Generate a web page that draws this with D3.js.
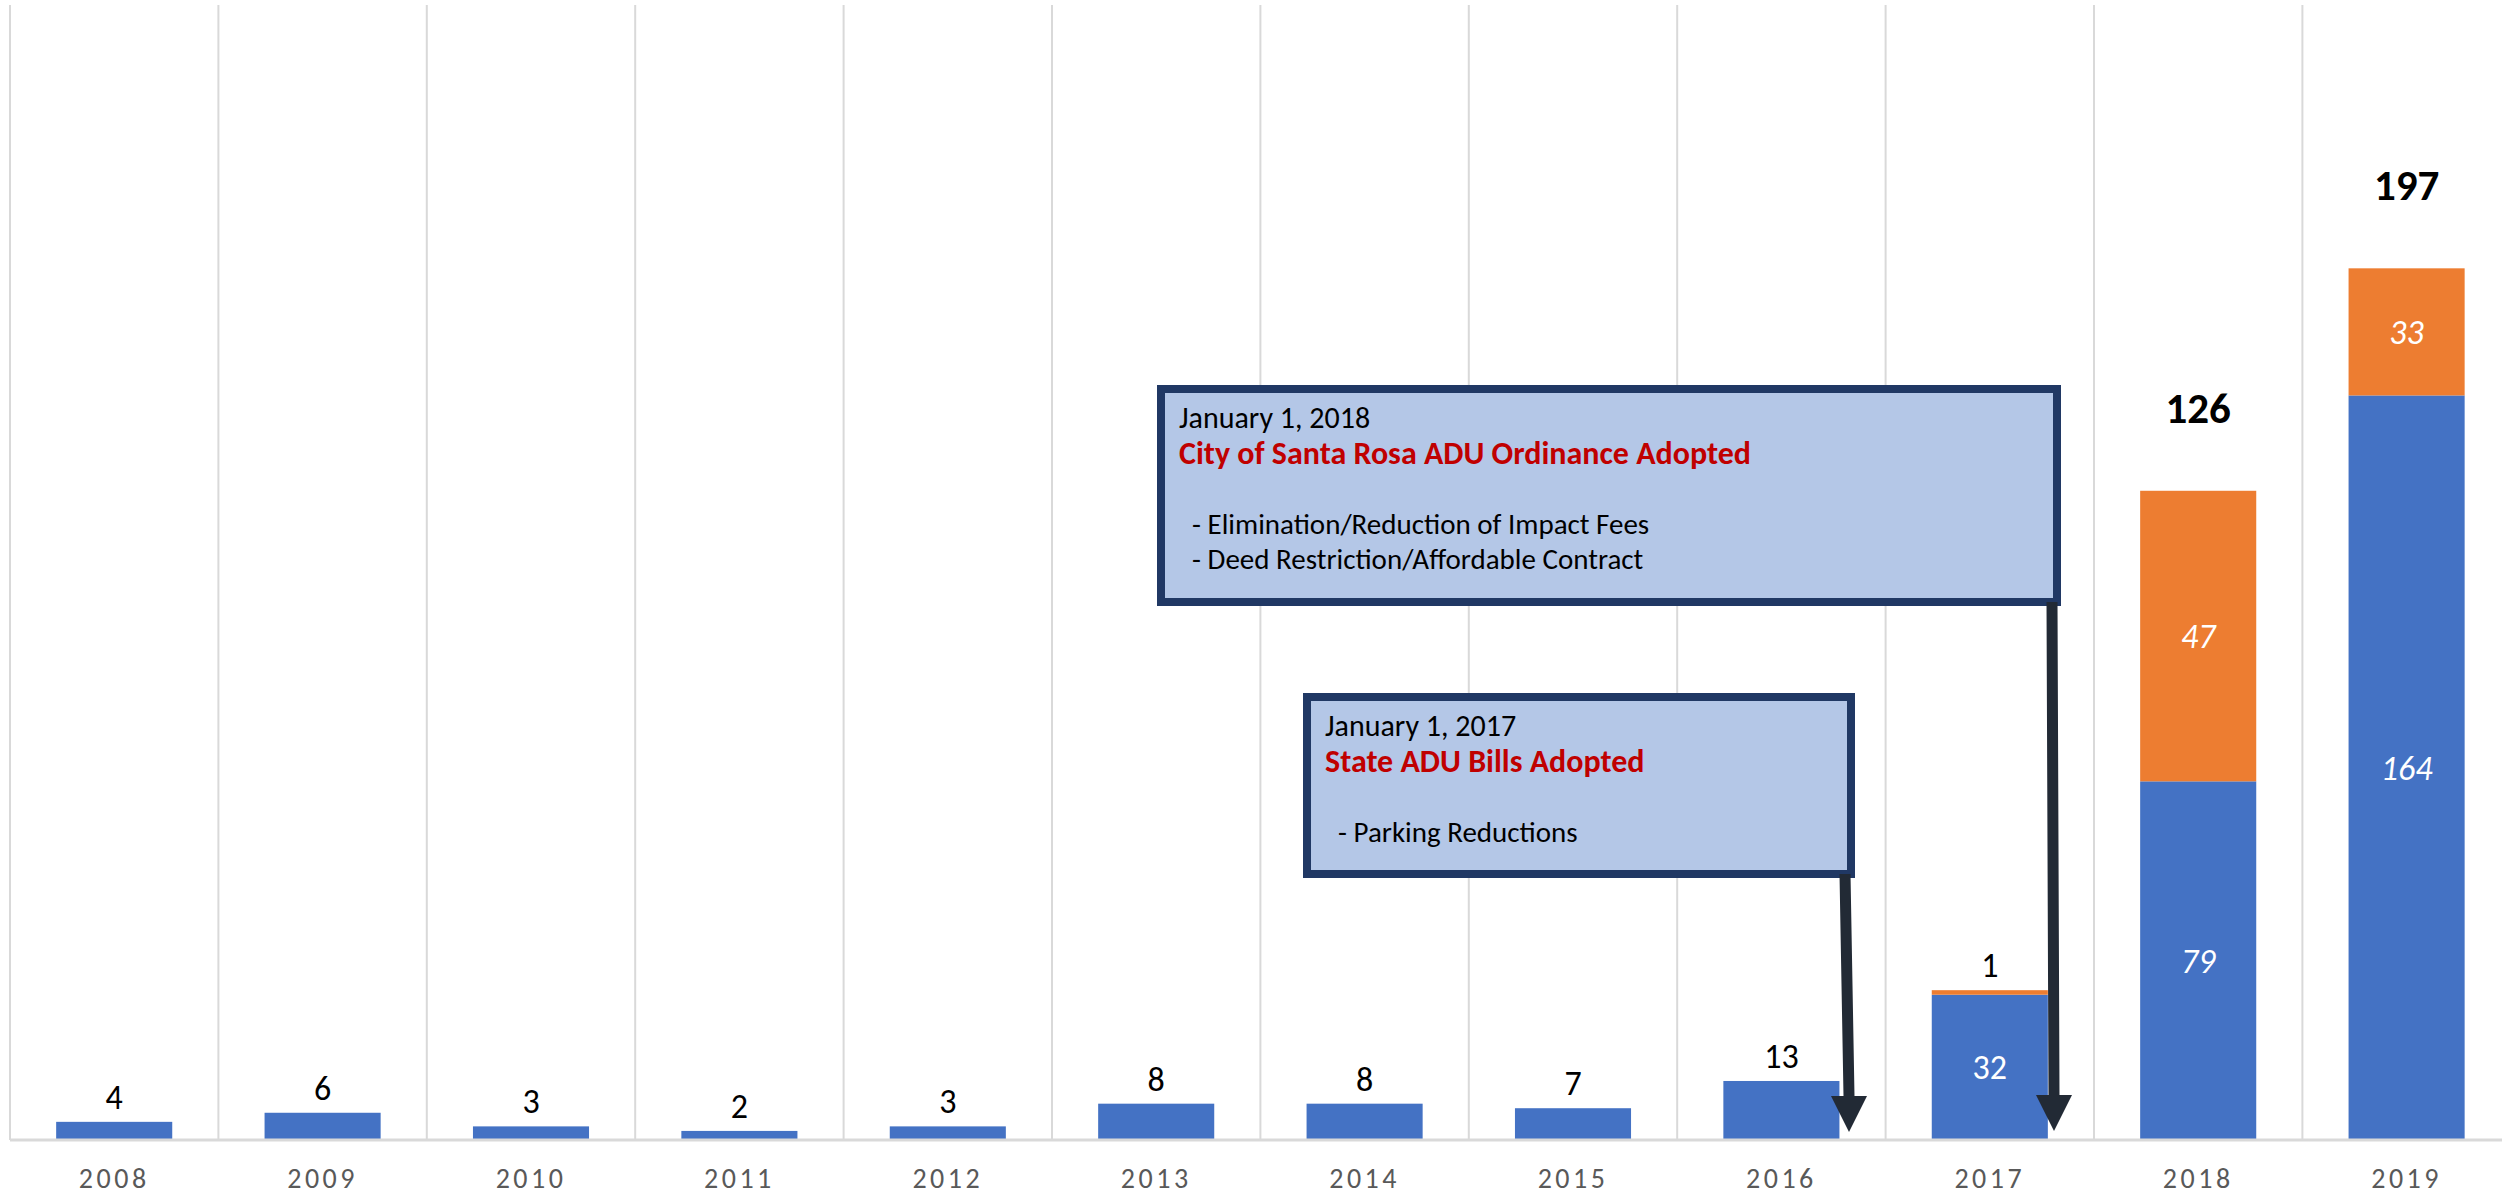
<!DOCTYPE html>
<html>
<head>
<meta charset="utf-8">
<script src="https://cdn.jsdelivr.net/npm/d3@7"></script>
<style>
  html, body { margin: 0; padding: 0; background: #fff; }
  svg { display: block; }
  text { font-family: Calibri, Carlito, Lato, sans-serif; }
</style>
</head>
<body>
<div class="chart"></div>
<script>
const years = ["2008", "2009", "2010", "2011", "2012", "2013", "2014", "2015", "2016", "2017", "2018", "2019"];
// blue series (units)
const existingUnits = [4, 6, 3, 2, 3, 8, 8, 7, 13, 32, 79, 164];
// orange series as drawn (bar heights)
const newUnits = [0, 0, 0, 0, 0, 0, 0, 0, 0, 1, 64, 28];
// labels as printed on the chart
const newUnitLabels = ["", "", "", "", "", "", "", "", "", "1", "47", "33"];
const totalLabels = ["", "", "", "", "", "", "", "", "", "", "126", "197"];

const notes = [
  { date: "January 1, 2017", title: "State ADU Bills Adopted", items: ["", "  - Parking Reductions"] },
  { date: "January 1, 2018", title: "City of Santa Rosa ADU Ordinance Adopted", items: ["", "  - Elimination/Reduction of Impact Fees", "  - Deed Restriction/Affordable Contract"] }
];

const w = 2502, h = 1198;
const plotLeft = 10, step = 208.4, plotTop = 5, base = 1140;

const svg = d3.select(".chart").append("svg").attr("width", w).attr("height", h);

const x = d3.scaleBand()
  .domain(years)
  .range([plotLeft, plotLeft + step * years.length])
  .paddingInner(0.443)
  .paddingOuter(0.2215);

const y = d3.scaleLinear().domain([0, 250]).range([base, plotTop]);

// vertical gridlines between categories
const grid = d3.range(years.length + 1).map(i => plotLeft + i * step);
svg.append("g").selectAll("line").data(grid).enter().append("line")
  .attr("x1", d => d).attr("x2", d => d)
  .attr("y1", plotTop).attr("y2", base)
  .attr("stroke", "#d9d9d9").attr("stroke-width", 2);

const data = years.map((yr, i) => ({ yr, a: existingUnits[i], b: newUnits[i], bl: newUnitLabels[i], tl: totalLabels[i] }));

// bars
svg.append("g").selectAll("rect").data(data).enter().append("rect")
  .attr("x", d => x(d.yr)).attr("width", x.bandwidth())
  .attr("y", d => y(d.a)).attr("height", d => base - y(d.a))
  .attr("fill", "#4472c4");

svg.append("g").selectAll("rect").data(data.filter(d => d.b > 0)).enter().append("rect")
  .attr("x", d => x(d.yr)).attr("width", x.bandwidth())
  .attr("y", d => y(d.a + d.b)).attr("height", d => y(d.a) - y(d.a + d.b))
  .attr("fill", "#ed7d31");

// x axis
const xAxis = d3.axisBottom(x).tickSize(0).tickPadding(0);
const ax = svg.append("g").attr("transform", `translate(0,${base})`).call(xAxis);
ax.select(".domain").remove();
ax.selectAll("text")
  .attr("y", 48).attr("dy", 0)
  .attr("fill", "#595959")
  .style("font-size", "28px")
  .style("letter-spacing", "3.5px")
  .style("font-family", "Calibri, Carlito, Lato, sans-serif");
svg.append("line").attr("x1", plotLeft).attr("x2", w).attr("y1", base).attr("y2", base)
  .attr("stroke", "#d9d9d9").attr("stroke-width", 3);

// data labels
const lab = svg.append("g").attr("text-anchor", "middle");
data.forEach(d => {
  const cx = x(d.yr) + x.bandwidth() / 2;
  const segH = base - y(d.a);
  if (segH > 60) {
    lab.append("text").attr("x", cx).attr("y", (y(d.a) + base) / 2).attr("dy", "0.35em")
      .attr("fill", "#fff").style("font-size", "34px")
      .style("font-style", +d.yr >= 2018 ? "italic" : "normal")
      .text(d.a);
  } else {
    lab.append("text").attr("x", cx).attr("y", y(d.a) - 13)
      .attr("fill", "#000").style("font-size", "34px").text(d.a);
  }
  if (d.bl) {
    const t = y(d.a + d.b), segB = y(d.a) - t;
    if (segB > 60) {
      lab.append("text").attr("x", cx).attr("y", (t + y(d.a)) / 2).attr("dy", "0.35em")
        .attr("fill", "#fff").style("font-size", "34px").style("font-style", "italic").text(d.bl);
    } else {
      lab.append("text").attr("x", cx).attr("y", t - 13)
        .attr("fill", "#000").style("font-size", "34px").text(d.bl);
    }
  }
  if (d.tl) {
    lab.append("text").attr("x", cx).attr("y", y(d.a + d.b) - 68)
      .attr("fill", "#000").style("font-size", "43px").style("font-weight", "bold").text(d.tl);
  }
});

// callout boxes
const boxes = [
  { x0: 1303, y0: 693, x1: 1855, y1: 878, note: notes[0], ax0: 1845, ax1: 1849, tip: 1132 },
  { x0: 1157, y0: 385, x1: 2061, y1: 606, note: notes[1], ax0: 2052, ax1: 2054, tip: 1131 }
];

boxes.forEach(b => {
  const g = svg.append("g");
  g.append("rect")
    .attr("x", b.x0 + 4).attr("y", b.y0 + 4)
    .attr("width", b.x1 - b.x0 - 8).attr("height", b.y1 - b.y0 - 8)
    .attr("fill", "#b4c7e7").attr("stroke", "#203864").attr("stroke-width", 8);

  const tx = b.x0 + 22;
  let ty = b.y0 + 43;
  g.append("text").attr("x", tx).attr("y", ty).attr("fill", "#000").style("font-size", "30px").text(b.note.date);
  ty += 36;
  g.append("text").attr("x", tx).attr("y", ty).attr("fill", "#c00000")
    .style("font-size", "32px").style("font-weight", "bold").text(b.note.title);
  b.note.items.forEach(it => {
    ty += 35;
    if (it) g.append("text").attr("x", tx).attr("y", ty).attr("fill", "#000")
      .style("font-size", "29px").style("white-space", "pre").text(it);
  });

  // arrow
  const headH = 36, headW = 36, shaft = 11;
  const yTop = b.y1 - 4;
  const yHead = b.tip - headH;
  const xm = b.ax1;
  g.append("polygon")
    .attr("points", [
      [b.ax0 - shaft / 2, yTop], [b.ax0 + shaft / 2, yTop],
      [xm + shaft / 2, yHead], [xm + headW / 2, yHead],
      [xm, b.tip], [xm - headW / 2, yHead], [xm - shaft / 2, yHead]
    ].map(p => p.join(",")).join(" "))
    .attr("fill", "#222a35");
});
</script>
</body>
</html>
